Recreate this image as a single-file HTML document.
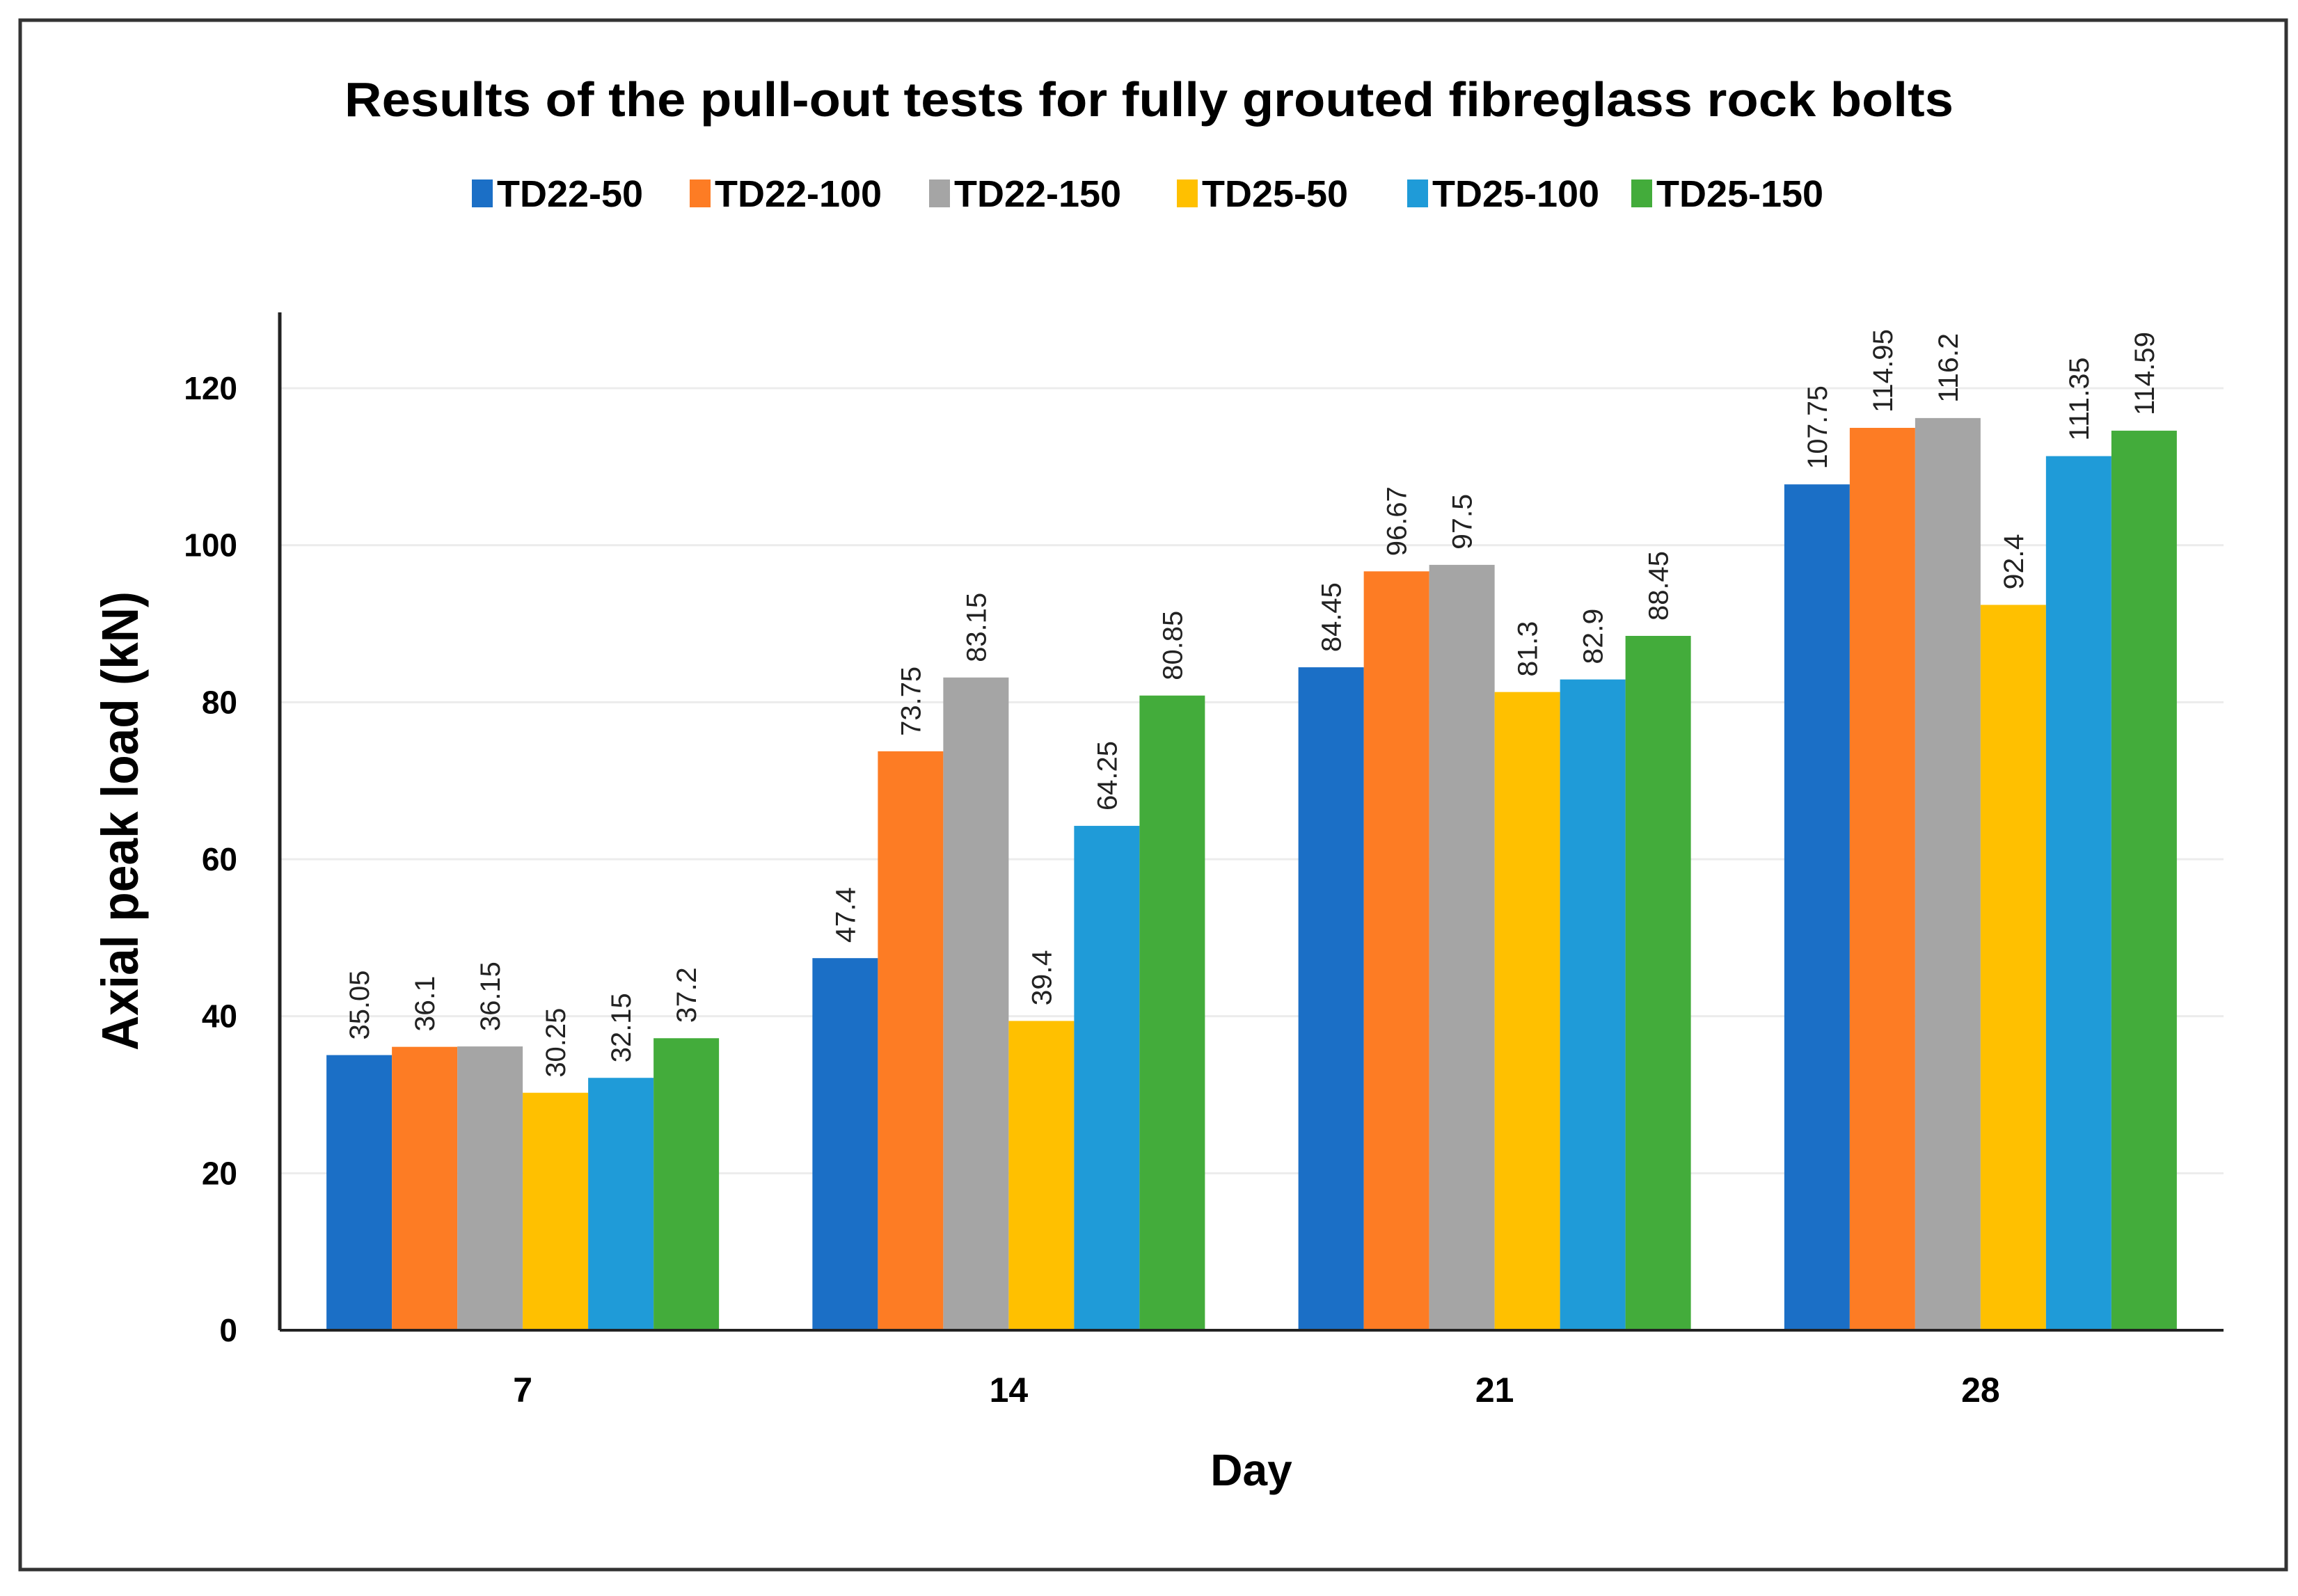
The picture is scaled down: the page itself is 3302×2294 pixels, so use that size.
<!DOCTYPE html>
<html><head><meta charset="utf-8"><style>
html,body{margin:0;padding:0;background:#fff;}
svg{display:block;font-family:"Liberation Sans",sans-serif;}
</style></head><body>
<svg id="chart" width="3302" height="2294" viewBox="0 0 3302 2294">
<rect x="29" y="29" width="3256" height="2227" fill="#fff" stroke="#333" stroke-width="5"/>
<text x="1651" y="167" text-anchor="middle" font-size="70" font-weight="bold" textLength="2312" lengthAdjust="spacingAndGlyphs">Results of the pull-out tests for fully grouted fibreglass rock bolts</text>
<g id="legend"></g>
<g id="grid"></g>
<g id="bars"></g>
<g id="axes"></g>
<text transform="translate(198,1180) rotate(-90)" text-anchor="middle" font-size="74" font-weight="bold" textLength="660" lengthAdjust="spacingAndGlyphs">Axial peak load (kN)</text>
<text x="1798" y="2135" text-anchor="middle" font-size="64" font-weight="bold">Day</text>
</svg>
<script>
const categories = ['7','14','21','28'];
const seriesNames = ['TD22-50','TD22-100','TD22-150','TD25-50','TD25-100','TD25-150'];
const s1 = [35.05, 47.4, 84.45, 107.75];
const s2 = [36.1, 73.75, 96.67, 114.95];
const s3 = [36.15, 83.15, 97.5, 116.2];
const s4 = [30.25, 39.4, 81.3, 92.4];
const s5 = [32.15, 64.25, 82.9, 111.35];
const s6 = [37.2, 80.85, 88.45, 114.59];
const yTicks = [0,20,40,60,80,100,120];
const series = [s1,s2,s3,s4,s5,s6];
const colors = ['#1b6fc6','#fd7c24','#a5a5a5','#ffc000','#1f9bd8','#43ac3b'];
const NS='http://www.w3.org/2000/svg';
const L=402,R=3195,T=449,B=1912;
function y(v){return B-(v/120)*(B-558);}
const gw=(R-L)/categories.length;
const bw=94;
function xBar(ci,si){return L+gw*ci+gw/2-bw*series.length/2+si*bw;}
function mk(tag,attrs,parent){const e=document.createElementNS(NS,tag);for(const k in attrs)e.setAttribute(k,attrs[k]);parent.appendChild(e);return e;}
const grid=document.getElementById('grid'),bars=document.getElementById('bars'),axes=document.getElementById('axes'),legend=document.getElementById('legend');
yTicks.forEach(t=>{
  if(t>0){const g=mk('line',{x1:L,x2:R,y1:y(t),y2:y(t),stroke:'#ececec','stroke-width':3},grid);
  
  }
  const tx=mk('text',{x:341,y:y(t)+16,'text-anchor':'end','font-size':46,'font-weight':'bold'},axes);
  tx.textContent=t;
  
  
});
series.forEach((s,si)=>{
  s.forEach((v,ci)=>{
    const x=xBar(ci,si);
    const r=mk('rect',{x:x,y:y(v),width:bw,height:B-y(v),fill:colors[si]},bars);
    
    
    const lb=mk('text',{transform:`translate(${x+bw/2+14},${y(v)-22}) rotate(-90)`,'font-size':40,fill:'#222',textLength:String(v).length*20,lengthAdjust:'spacingAndGlyphs'},bars);
    lb.textContent=v;
    
    
  });
});
const ya=mk('line',{x1:L,x2:L,y1:T,y2:B,stroke:'#222','stroke-width':5},axes);


const xa=mk('line',{x1:L,x2:R,y1:B,y2:B,stroke:'#222','stroke-width':4},axes);


categories.forEach((c,ci)=>{
  const t=mk('text',{x:L+gw*ci+gw/2,y:2015,'text-anchor':'middle','font-size':50,'font-weight':'bold'},axes);
  t.textContent=c;
  
  
});
const lx=[678,991,1335,1691,2022,2344];
seriesNames.forEach((n,i)=>{
  const g=mk('g',{},legend);
  
  
  mk('rect',{x:lx[i],y:258,width:30,height:40,fill:colors[i]},g);
  const t=mk('text',{x:lx[i]+36,y:297,'font-size':54,'font-weight':'bold',textLength:n.length*30,lengthAdjust:'spacingAndGlyphs'},g);
  t.textContent=n;
});
</script>
</body></html>
